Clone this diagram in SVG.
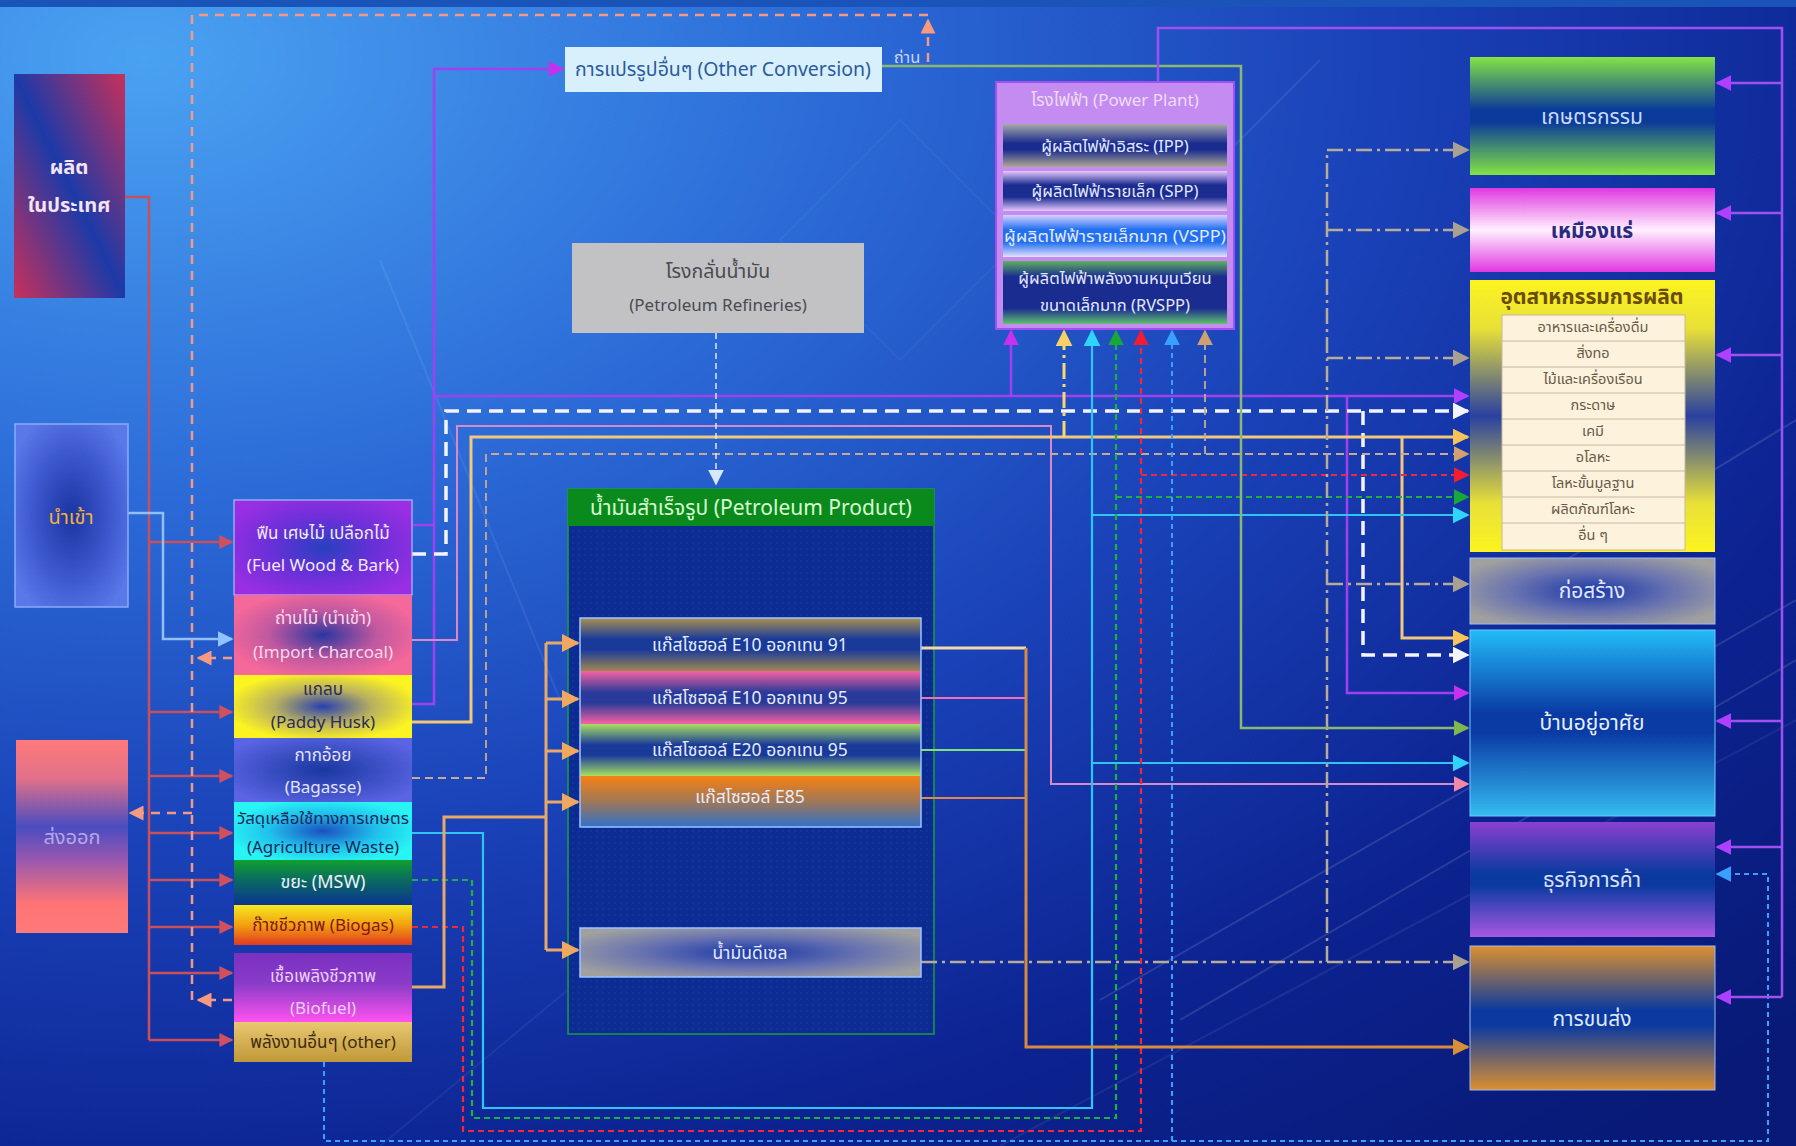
<svg xmlns="http://www.w3.org/2000/svg" width="1796" height="1146" viewBox="0 0 1796 1146">
<defs>
<style>
.t{font-family:'Noto Sans Thai','Noto Sans','Tahoma','DejaVu Sans',sans-serif;text-anchor:middle;dominant-baseline:central}
.f17{font-size:17px}.f16{font-size:16.5px}.f15{font-size:16.5px}.f18{font-size:18px}.f19{font-size:19.5px}.f20{font-size:20px}.f21{font-size:21px}.f13{font-size:14.5px}.fp{font-size:17.5px}
.nb{stroke:#a8c0ff;stroke-width:1.2}
</style>
<radialGradient id="bg" cx="0.08" cy="0.05" r="1.25">
<stop offset="0" stop-color="#4aa2f2"/><stop offset="0.3" stop-color="#2c6cd8"/><stop offset="0.55" stop-color="#1a42b8"/><stop offset="0.8" stop-color="#0c2290"/><stop offset="1" stop-color="#081a76"/>
</radialGradient>
<linearGradient id="gProd" x1="0" y1="1" x2="1" y2="0"><stop offset="0" stop-color="#c8305a"/><stop offset="0.5" stop-color="#1c3aa8"/><stop offset="1" stop-color="#c8305a"/></linearGradient>
<radialGradient id="gImp" r="0.6"><stop offset="0" stop-color="#1a34a0"/><stop offset="0.6" stop-color="#3f5ad0"/><stop offset="1" stop-color="#5a78e8"/></radialGradient>
<linearGradient id="gExp" x1="0" y1="0" x2="0" y2="1"><stop offset="0" stop-color="#ff7a7a"/><stop offset="0.2" stop-color="#e0708a"/><stop offset="0.45" stop-color="#4a4cc0"/><stop offset="0.62" stop-color="#9858b0"/><stop offset="0.85" stop-color="#ff7474"/><stop offset="1" stop-color="#ff7a7a"/></linearGradient>
<radialGradient id="gWood" r="0.6"><stop offset="0" stop-color="#2840c0"/><stop offset="0.5" stop-color="#6a30d8"/><stop offset="1" stop-color="#9a2ee4"/></radialGradient>
<radialGradient id="gChar" r="0.55"><stop offset="0" stop-color="#2a36a0"/><stop offset="0.55" stop-color="#c058a0"/><stop offset="1" stop-color="#f4689a"/></radialGradient>
<radialGradient id="gPad" r="0.55"><stop offset="0" stop-color="#2840b0"/><stop offset="0.5" stop-color="#b8b060"/><stop offset="1" stop-color="#fcf420"/></radialGradient>
<radialGradient id="gBag" r="0.6"><stop offset="0" stop-color="#1a38a0"/><stop offset="1" stop-color="#5a64e4"/></radialGradient>
<radialGradient id="gAgr" r="0.55"><stop offset="0" stop-color="#1a50c0"/><stop offset="0.55" stop-color="#20c0ec"/><stop offset="1" stop-color="#28f4f4"/></radialGradient>
<linearGradient id="gMsw" x1="0" y1="0" x2="0" y2="1"><stop offset="0" stop-color="#10a030"/><stop offset="0.45" stop-color="#0a6a60"/><stop offset="1" stop-color="#0a3490"/></linearGradient>
<linearGradient id="gBio" x1="0" y1="0" x2="0" y2="1"><stop offset="0" stop-color="#f4e820"/><stop offset="0.5" stop-color="#f4a010"/><stop offset="1" stop-color="#e03a20"/></linearGradient>
<linearGradient id="gBf" x1="0" y1="0" x2="0" y2="1"><stop offset="0" stop-color="#7a30c0"/><stop offset="0.45" stop-color="#8a3cc8"/><stop offset="1" stop-color="#ff52f0"/></linearGradient>
<linearGradient id="gOth" x1="0" y1="0" x2="0" y2="1"><stop offset="0" stop-color="#e8c870"/><stop offset="1" stop-color="#c09838"/></linearGradient>
<linearGradient id="gE91" x1="0" y1="0" x2="0" y2="1"><stop offset="0" stop-color="#a89050"/><stop offset="0.4" stop-color="#1a3a9a"/><stop offset="0.6" stop-color="#1a3a9a"/><stop offset="1" stop-color="#a08850"/></linearGradient>
<linearGradient id="gE95" x1="0" y1="0" x2="0" y2="1"><stop offset="0" stop-color="#f862a2"/><stop offset="0.4" stop-color="#2a3a9a"/><stop offset="0.6" stop-color="#2a3a9a"/><stop offset="1" stop-color="#f862a2"/></linearGradient>
<linearGradient id="gE20" x1="0" y1="0" x2="0" y2="1"><stop offset="0" stop-color="#a8e060"/><stop offset="0.4" stop-color="#1a3a9a"/><stop offset="0.6" stop-color="#1a3a9a"/><stop offset="1" stop-color="#a8e060"/></linearGradient>
<linearGradient id="gE85" x1="0" y1="0" x2="0" y2="1"><stop offset="0" stop-color="#f88010"/><stop offset="0.5" stop-color="#a07858"/><stop offset="1" stop-color="#3070c8"/></linearGradient>
<radialGradient id="gGray" r="0.6"><stop offset="0" stop-color="#1a38a8"/><stop offset="0.55" stop-color="#6a74b0"/><stop offset="1" stop-color="#a0a0a0"/></radialGradient>
<linearGradient id="gIpp" x1="0" y1="0" x2="0" y2="1"><stop offset="0" stop-color="#a8a8a8"/><stop offset="0.45" stop-color="#1a2c90"/><stop offset="0.6" stop-color="#1a2c90"/><stop offset="1" stop-color="#b0a890"/></linearGradient>
<linearGradient id="gSpp" x1="0" y1="0" x2="0" y2="1"><stop offset="0" stop-color="#e8c8ff"/><stop offset="0.35" stop-color="#1a2c90"/><stop offset="0.65" stop-color="#1a2c90"/><stop offset="1" stop-color="#e8c8ff"/></linearGradient>
<linearGradient id="gVspp" x1="0" y1="0" x2="0" y2="1"><stop offset="0" stop-color="#d8d0ff"/><stop offset="0.35" stop-color="#2070f0"/><stop offset="0.65" stop-color="#2070f0"/><stop offset="1" stop-color="#e8e0ff"/></linearGradient>
<linearGradient id="gRv" x1="0" y1="0" x2="0" y2="1"><stop offset="0" stop-color="#60b060"/><stop offset="0.25" stop-color="#1a2c90"/><stop offset="0.75" stop-color="#1a2c90"/><stop offset="1" stop-color="#60c070"/></linearGradient>
<linearGradient id="gAgri" x1="0" y1="0" x2="0" y2="1"><stop offset="0" stop-color="#84e444"/><stop offset="0.45" stop-color="#0a3a9a"/><stop offset="0.55" stop-color="#0a3a9a"/><stop offset="1" stop-color="#84e444"/></linearGradient>
<linearGradient id="gMine" x1="0" y1="0" x2="0" y2="1"><stop offset="0" stop-color="#e038e0"/><stop offset="0.5" stop-color="#fff0ff"/><stop offset="1" stop-color="#e038e0"/></linearGradient>
<linearGradient id="gInd" x1="0" y1="0" x2="0" y2="1"><stop offset="0" stop-color="#fcf420"/><stop offset="0.18" stop-color="#e8e038"/><stop offset="0.5" stop-color="#2a40a0"/><stop offset="0.82" stop-color="#e8e038"/><stop offset="1" stop-color="#fcf420"/></linearGradient>
<linearGradient id="gHome" x1="0" y1="0" x2="0" y2="1"><stop offset="0" stop-color="#22bcf8"/><stop offset="0.45" stop-color="#0a3aa4"/><stop offset="0.55" stop-color="#0a3aa4"/><stop offset="1" stop-color="#34bcf0"/></linearGradient>
<linearGradient id="gCom" x1="0" y1="0" x2="0" y2="1"><stop offset="0" stop-color="#8a40d0"/><stop offset="0.45" stop-color="#0a3aa0"/><stop offset="0.55" stop-color="#0a3aa0"/><stop offset="1" stop-color="#a858e4"/></linearGradient>
<linearGradient id="gTrn" x1="0" y1="0" x2="0" y2="1"><stop offset="0" stop-color="#dc9030"/><stop offset="0.45" stop-color="#0a3aa0"/><stop offset="0.55" stop-color="#0a3aa0"/><stop offset="1" stop-color="#dc9030"/></linearGradient>
<pattern id="dots" width="6" height="6" patternUnits="userSpaceOnUse"><rect width="6" height="6" fill="#0c2c94"/><circle cx="3" cy="3" r="0.8" fill="#1a3ca8"/></pattern>
<marker id="mRb" viewBox="0 0 10 10" refX="9" refY="5" markerWidth="14" markerHeight="14" markerUnits="userSpaceOnUse" orient="auto"><path d="M0,0L10,5L0,10z" fill="#d05060"/></marker>
<marker id="mLb" viewBox="0 0 10 10" refX="9" refY="5" markerWidth="16" markerHeight="16" markerUnits="userSpaceOnUse" orient="auto"><path d="M0,0L10,5L0,10z" fill="#90c4ff"/></marker>
<marker id="mSal" viewBox="0 0 10 10" refX="9" refY="5" markerWidth="15" markerHeight="15" markerUnits="userSpaceOnUse" orient="auto"><path d="M0,0L10,5L0,10z" fill="#f89a80"/></marker>
<marker id="mPu" viewBox="0 0 10 10" refX="9" refY="5" markerWidth="16" markerHeight="16" markerUnits="userSpaceOnUse" orient="auto"><path d="M0,0L10,5L0,10z" fill="#b040ff"/></marker>
<marker id="mMg" viewBox="0 0 10 10" refX="9" refY="5" markerWidth="16" markerHeight="16" markerUnits="userSpaceOnUse" orient="auto"><path d="M0,0L10,5L0,10z" fill="#c830f0"/></marker>
<marker id="mWh" viewBox="0 0 10 10" refX="9" refY="5" markerWidth="17" markerHeight="17" markerUnits="userSpaceOnUse" orient="auto"><path d="M0,0L10,5L0,10z" fill="#f4f4ff"/></marker>
<marker id="mPk" viewBox="0 0 10 10" refX="9" refY="5" markerWidth="16" markerHeight="16" markerUnits="userSpaceOnUse" orient="auto"><path d="M0,0L10,5L0,10z" fill="#f088a8"/></marker>
<marker id="mTan" viewBox="0 0 10 10" refX="9" refY="5" markerWidth="17" markerHeight="17" markerUnits="userSpaceOnUse" orient="auto"><path d="M0,0L10,5L0,10z" fill="#f8c458"/></marker>
<marker id="mYl" viewBox="0 0 10 10" refX="9" refY="5" markerWidth="17" markerHeight="17" markerUnits="userSpaceOnUse" orient="auto"><path d="M0,0L10,5L0,10z" fill="#f8d068"/></marker>
<marker id="mGt" viewBox="0 0 10 10" refX="9" refY="5" markerWidth="16" markerHeight="16" markerUnits="userSpaceOnUse" orient="auto"><path d="M0,0L10,5L0,10z" fill="#d0a070"/></marker>
<marker id="mCy" viewBox="0 0 10 10" refX="9" refY="5" markerWidth="17" markerHeight="17" markerUnits="userSpaceOnUse" orient="auto"><path d="M0,0L10,5L0,10z" fill="#30d4f8"/></marker>
<marker id="mGr" viewBox="0 0 10 10" refX="9" refY="5" markerWidth="16" markerHeight="16" markerUnits="userSpaceOnUse" orient="auto"><path d="M0,0L10,5L0,10z" fill="#18a838"/></marker>
<marker id="mRd" viewBox="0 0 10 10" refX="9" refY="5" markerWidth="16" markerHeight="16" markerUnits="userSpaceOnUse" orient="auto"><path d="M0,0L10,5L0,10z" fill="#f41c30"/></marker>
<marker id="mBl" viewBox="0 0 10 10" refX="9" refY="5" markerWidth="16" markerHeight="16" markerUnits="userSpaceOnUse" orient="auto"><path d="M0,0L10,5L0,10z" fill="#38a0ff"/></marker>
<marker id="mOr" viewBox="0 0 10 10" refX="9" refY="5" markerWidth="18" markerHeight="18" markerUnits="userSpaceOnUse" orient="auto"><path d="M0,0L10,5L0,10z" fill="#f0a860"/></marker>
<marker id="mBr" viewBox="0 0 10 10" refX="9" refY="5" markerWidth="17" markerHeight="17" markerUnits="userSpaceOnUse" orient="auto"><path d="M0,0L10,5L0,10z" fill="#d89038"/></marker>
<marker id="mDd" viewBox="0 0 10 10" refX="9" refY="5" markerWidth="17" markerHeight="17" markerUnits="userSpaceOnUse" orient="auto"><path d="M0,0L10,5L0,10z" fill="#a8a090"/></marker>
<marker id="mGy" viewBox="0 0 10 10" refX="9" refY="5" markerWidth="16" markerHeight="16" markerUnits="userSpaceOnUse" orient="auto"><path d="M0,0L10,5L0,10z" fill="#80b850"/></marker>
<marker id="mRf" viewBox="0 0 10 10" refX="9" refY="5" markerWidth="16" markerHeight="16" markerUnits="userSpaceOnUse" orient="auto"><path d="M0,0L10,5L0,10z" fill="#d8e8ff"/></marker>
</defs>

<rect width="1796" height="1146" fill="url(#bg)"/>
<rect width="1796" height="7" fill="#1a54b8"/>
<g id="decor" fill="none" stroke="#ffffff" stroke-opacity="0.12" stroke-width="2">
<path d="M1100,1000 L1796,600"/><path d="M1180,1020 L1796,660"/><path d="M1000,1146 L1796,720" stroke-opacity="0.07"/>
<path d="M1120,260 L1320,60" stroke-opacity="0.08"/><path d="M1500,600 L1796,420"/>
<path d="M380,1146 L700,880" stroke-opacity="0.06"/>
<path d="M900,120 L1020,240 L900,360 L780,240z" stroke-opacity="0.04"/>
<path d="M380,260 L560,700" stroke-opacity="0.08"/>
</g>

<g id="n-petroleum">
<rect x="568" y="489" width="366" height="545" fill="url(#dots)" stroke="#1e9a40" stroke-width="1.5"/>
<rect x="568" y="489" width="366" height="37" fill="#0a8a1c"/>
<text class="t f21" x="751" y="508" fill="#d8ffd0">น้ำมันสำเร็จรูป (Petroleum  Product)</text>
</g>

<g id="connectors" fill="none" stroke-linejoin="miter">
<g stroke="#c8505a" stroke-width="2.5">
<path d="M125,197 H149 V1040"/>
<path d="M149,542 H232" marker-end="url(#mRb)"/>
<path d="M149,712 H232" marker-end="url(#mRb)"/>
<path d="M149,776 H232" marker-end="url(#mRb)"/>
<path d="M149,833 H232" marker-end="url(#mRb)"/>
<path d="M149,880 H232" marker-end="url(#mRb)"/>
<path d="M149,927 H232" marker-end="url(#mRb)"/>
<path d="M149,973 H232" marker-end="url(#mRb)"/>
<path d="M149,1040 H232" marker-end="url(#mRb)"/>
</g>
<path d="M128,513 H163 V639 H232" stroke="#90c0ff" stroke-width="2.5" marker-end="url(#mLb)"/>
<g stroke="#f29a88" stroke-width="2.5" stroke-dasharray="9 7">
<path d="M928,62 V20" marker-end="url(#mSal)"/>
<path d="M928,15 H192 V1000"/>
<path d="M232,658 H198" marker-end="url(#mSal)"/>
<path d="M232,1000 H198" marker-end="url(#mSal)"/>
<path d="M192,813 H130" marker-end="url(#mSal)"/>
</g>
<g stroke="#a040f0" stroke-width="2.5">
<path d="M412,525 H434"/>
<path d="M412,704 H434 V69 H563" marker-end="url(#mMg)"/>
<path d="M434,396 H1468" marker-end="url(#mPu)"/>
<path d="M1011,396 V331" marker-end="url(#mMg)"/>
<path d="M1347,396 V693 H1468" marker-end="url(#mMg)"/>
</g>
<g stroke="#f4f4ff" stroke-width="3.5" stroke-dasharray="14 8">
<path d="M412,554 H446 V411 H1468" marker-end="url(#mWh)"/>
<path d="M1363,411 V655 H1468" marker-end="url(#mWh)"/>
</g>
<path d="M412,640 H457 V426 H1051 V784 H1468" stroke="#d88ac8" stroke-width="2" marker-end="url(#mPk)"/>
<g stroke="#f2c87a" stroke-width="3">
<path d="M412,722 H471 V437 H1468" marker-end="url(#mTan)"/>
<path d="M1402,437 V638 H1468" marker-end="url(#mTan)"/>
</g>
<path d="M1064,437 V331" stroke="#f8d870" stroke-width="3" stroke-dasharray="16 5 3 5" marker-end="url(#mYl)"/>
<g stroke="#c8aa90" stroke-width="1.8" stroke-dasharray="8 5">
<path d="M412,778 H486 V454 H1468" marker-end="url(#mGt)"/>
<path d="M1205,454 V331" marker-end="url(#mGt)"/>
</g>
<g stroke="#30c4f4" stroke-width="2.2">
<path d="M412,833 H483 V1108 H1092 V331" marker-end="url(#mCy)"/>
<path d="M1092,515 H1468" marker-end="url(#mCy)"/>
<path d="M1092,763 H1468" marker-end="url(#mCy)"/>
</g>
<g stroke="#20b040" stroke-width="2.2" stroke-dasharray="6 4">
<path d="M412,880 H472 V1118 H1116 V331" marker-end="url(#mGr)"/>
<path d="M1116,497 H1468" marker-end="url(#mGr)"/>
</g>
<g stroke="#f02838" stroke-width="2.2" stroke-dasharray="6 4">
<path d="M412,927 H463 V1131 H1141 V331" marker-end="url(#mRd)"/>
<path d="M1141,475 H1468" marker-end="url(#mRd)"/>
</g>
<g stroke="#3aa0ff" stroke-width="2" stroke-dasharray="5 4">
<path d="M324,1062 V1141 H1768 V874 H1717" marker-end="url(#mBl)"/>
<path d="M1172,1141 V331" marker-end="url(#mBl)"/>
</g>
<g stroke="#e8a868" stroke-width="3">
<path d="M412,987 H444 V817 H546"/>
<path d="M546,643 V950"/>
<path d="M546,643 H578" marker-end="url(#mOr)"/>
<path d="M546,699 H578" marker-end="url(#mOr)"/>
<path d="M546,751 H578" marker-end="url(#mOr)"/>
<path d="M546,802 H578" marker-end="url(#mOr)"/>
<path d="M546,950 H578" marker-end="url(#mOr)"/>
</g>
<path d="M921,648 H1026" stroke="#f4d8a8" stroke-width="3"/>
<path d="M921,698 H1026" stroke="#f070b0" stroke-width="2"/>
<path d="M921,750 H1026" stroke="#80e080" stroke-width="2"/>
<path d="M921,798 H1026" stroke="#e08850" stroke-width="2"/>
<path d="M1026,648 V1047 H1468" stroke="#d88a40" stroke-width="3" marker-end="url(#mBr)"/>
<g stroke="#b8ac98" stroke-width="2.5" stroke-dasharray="16 5 3 5">
<path d="M921,962 H1468" marker-end="url(#mDd)"/>
<path d="M1327,962 V150 H1468" marker-end="url(#mDd)"/>
<path d="M1327,230 H1468" marker-end="url(#mDd)"/>
<path d="M1327,358 H1468" marker-end="url(#mDd)"/>
<path d="M1327,584 H1468" marker-end="url(#mDd)"/>
</g>
<path d="M716,333 V484" stroke="#e0e8ff" stroke-width="1.5" stroke-dasharray="6 4" marker-end="url(#mRf)"/>
<path d="M882,66 H1241 V728 H1468" stroke="#8ab870" stroke-width="2.5" marker-end="url(#mGy)"/>
<g stroke="#a050f0" stroke-width="2.5">
<path d="M1158,82 V28 H1782 V997"/>
<path d="M1782,83 H1717" marker-end="url(#mPu)"/>
<path d="M1782,213 H1717" marker-end="url(#mPu)"/>
<path d="M1782,355 H1717" marker-end="url(#mPu)"/>
<path d="M1782,721 H1717" marker-end="url(#mPu)"/>
<path d="M1782,847 H1717" marker-end="url(#mPu)"/>
<path d="M1782,997 H1717" marker-end="url(#mPu)"/>
</g>
</g>

<g id="n-domestic">
<rect x="14" y="74" width="111" height="224" fill="url(#gProd)"/>
<text class="t f20" x="69" y="168" fill="#f4e4f4" font-weight="bold">ผลิต</text>
<text class="t f20" x="69" y="206" fill="#f4e4f4" font-weight="bold">ในประเทศ</text>
</g>
<g id="n-import">
<rect x="15" y="424" width="113" height="183" fill="url(#gImp)" stroke="#88acf8" stroke-width="1.5"/>
<text class="t f20" x="71" y="518" fill="#f0b040">นำเข้า</text>
</g>
<g id="n-export">
<rect x="16" y="740" width="112" height="193" fill="url(#gExp)"/>
<text class="t f20" x="72" y="838" fill="#b4a8ec">ส่งออก</text>
</g>

<g id="n-fuelwood">
<rect x="234" y="500" width="178" height="95" fill="url(#gWood)" class="nb"/>
<text class="t f17" x="323" y="534" fill="#f4e8ff">ฟืน เศษไม้ เปลือกไม้</text>
<text class="t f17" x="323" y="566" fill="#f4e8ff">(Fuel Wood &amp; Bark)</text>
</g>
<g id="n-charcoal">
<rect x="234" y="595" width="178" height="80" fill="url(#gChar)"/>
<text class="t f17" x="323" y="619" fill="#ffd8e8">ถ่านไม้ (นำเข้า)</text>
<text class="t f17" x="323" y="653" fill="#ffd8e8">(Import Charcoal)</text>
</g>
<g id="n-paddy">
<rect x="234" y="675" width="178" height="63" fill="url(#gPad)"/>
<text class="t f17" x="323" y="690" fill="#2a2a58">แกลบ</text>
<text class="t f17" x="323" y="723" fill="#2a2a58">(Paddy Husk)</text>
</g>
<g id="n-bagasse">
<rect x="234" y="738" width="178" height="64" fill="url(#gBag)"/>
<text class="t f17" x="323" y="756" fill="#e4e4ff">กากอ้อย</text>
<text class="t f17" x="323" y="788" fill="#e4e4ff">(Bagasse)</text>
</g>
<g id="n-agri">
<rect x="234" y="802" width="178" height="58" fill="url(#gAgr)"/>
<text class="t f16" x="323" y="818" fill="#18285a" textLength="172" lengthAdjust="spacingAndGlyphs">วัสดุเหลือใช้ทางการเกษตร</text>
<text class="t f17" x="323" y="848" fill="#18285a">(Agriculture Waste)</text>
</g>
<g id="n-msw">
<rect x="234" y="860" width="178" height="45" fill="url(#gMsw)"/>
<text class="t f18" x="323" y="882" fill="#f0f0ff">ขยะ (MSW)</text>
</g>
<g id="n-biogas">
<rect x="234" y="905" width="178" height="40" fill="url(#gBio)"/>
<text class="t f17" x="323" y="926" fill="#801818">ก๊าซชีวภาพ (Biogas)</text>
</g>
<g id="n-biofuel">
<rect x="234" y="953" width="178" height="69" fill="url(#gBf)"/>
<text class="t f17" x="323" y="977" fill="#ecd0ff">เชื้อเพลิงชีวภาพ</text>
<text class="t f17" x="323" y="1009" fill="#ecd0ff">(Biofuel)</text>
</g>
<g id="n-other">
<rect x="234" y="1022" width="178" height="40" fill="url(#gOth)"/>
<text class="t f17" x="323" y="1043" fill="#402a10">พลังงานอื่นๆ (other)</text>
</g>

<g id="n-otherconv">
<rect x="565" y="47" width="317" height="45" fill="#d8f0fc"/>
<text class="t f19" x="723" y="70" fill="#2c5aa0">การแปรรูปอื่นๆ  (Other Conversion)</text>
</g>
<text class="t f16" x="907" y="57" fill="#c8d4f4" id="lbl-charcoal">ถ่าน</text>
<g id="n-refinery">
<rect x="572" y="243" width="292" height="90" fill="#c2c2c4"/>
<text class="t f19" x="718" y="272" fill="#4a4a52">โรงกลั่นน้ำมัน</text>
<text class="t f17" x="718" y="306" fill="#4a4a52">(Petroleum Refineries)</text>
</g>
<g id="n-e10-91">
<rect x="580" y="618" width="341" height="53" fill="url(#gE91)"/>
<text class="t fp" x="750" y="645" fill="#e4ecff">แก๊สโซฮอล์ E10 ออกเทน 91</text>
</g>
<g id="n-e10-95">
<rect x="580" y="671" width="341" height="53" fill="url(#gE95)"/>
<text class="t fp" x="750" y="698" fill="#e4ecff">แก๊สโซฮอล์ E10 ออกเทน 95</text>
</g>
<g id="n-e20">
<rect x="580" y="724" width="341" height="52" fill="url(#gE20)"/>
<text class="t fp" x="750" y="750" fill="#e4ecff">แก๊สโซฮอล์ E20 ออกเทน 95</text>
</g>
<g id="n-e85">
<rect x="580" y="776" width="341" height="51" fill="url(#gE85)"/>
<text class="t fp" x="750" y="797" fill="#e4ecff">แก๊สโซฮอล์ E85</text>
</g>
<rect x="580" y="618" width="341" height="209" fill="none" stroke="#9ac4ff" stroke-width="1.5"/>
<g id="n-diesel">
<rect x="580" y="928" width="341" height="49" fill="url(#gGray)" stroke="#9ac4ff" stroke-width="1.5"/>
<text class="t fp" x="750" y="953" fill="#e4ecff">น้ำมันดีเซล</text>
</g>

<g id="n-powerplant">
<rect x="996" y="82" width="238" height="247" fill="#c48cf0" stroke="#a050f0" stroke-width="2"/>
<text class="t f17" x="1115" y="101" fill="#eedcff">โรงไฟฟ้า (Power Plant)</text>
<rect x="1003" y="124" width="224" height="43" fill="url(#gIpp)"/>
<text class="t f15" x="1115" y="146" fill="#e4e8ff">ผู้ผลิตไฟฟ้าอิสระ (IPP)</text>
<rect x="1003" y="171" width="224" height="40" fill="url(#gSpp)"/>
<text class="t f15" x="1115" y="191" fill="#e4e8ff">ผู้ผลิตไฟฟ้ารายเล็ก (SPP)</text>
<rect x="1003" y="215" width="224" height="42" fill="url(#gVspp)"/>
<text class="t f15" x="1115" y="236" fill="#e4e8ff" textLength="222" lengthAdjust="spacingAndGlyphs">ผู้ผลิตไฟฟ้ารายเล็กมาก (VSPP)</text>
<rect x="1003" y="261" width="224" height="63" fill="url(#gRv)"/>
<text class="t f15" x="1115" y="278" fill="#e4e8ff">ผู้ผลิตไฟฟ้าพลังงานหมุนเวียน</text>
<text class="t f15" x="1115" y="305" fill="#e4e8ff">ขนาดเล็กมาก (RVSPP)</text>
</g>

<g id="n-agriculture">
<rect x="1470" y="57" width="245" height="118" fill="url(#gAgri)"/>
<text class="t f21" x="1592" y="117" fill="#c8dcff">เกษตรกรรม</text>
</g>
<g id="n-mining">
<rect x="1470" y="188" width="245" height="84" fill="url(#gMine)"/>
<text class="t f21" x="1592" y="231" fill="#2a2a80" font-weight="bold">เหมืองแร่</text>
</g>
<g id="n-industry">
<rect x="1470" y="280" width="245" height="272" fill="url(#gInd)"/>
<text class="t f21" x="1592" y="297" fill="#6a4c00" font-weight="bold">อุตสาหกรรมการผลิต</text>
<rect x="1502" y="315" width="183" height="235" fill="#fdf2dc" stroke="#c8b8a0" stroke-width="1"/>
<g stroke="#c8b8a0" stroke-width="1">
<path d="M1502,341 H1685 M1502,367 H1685 M1502,393 H1685 M1502,419 H1685 M1502,445 H1685 M1502,471 H1685 M1502,497 H1685 M1502,523 H1685"/>
</g>
<g fill="#6a5a48">
<text class="t f13" x="1593" y="328">อาหารและเครื่องดื่ม</text>
<text class="t f13" x="1593" y="354">สิ่งทอ</text>
<text class="t f13" x="1593" y="380">ไม้และเครื่องเรือน</text>
<text class="t f13" x="1593" y="406">กระดาษ</text>
<text class="t f13" x="1593" y="432">เคมี</text>
<text class="t f13" x="1593" y="458">อโลหะ</text>
<text class="t f13" x="1593" y="484">โลหะขั้นมูลฐาน</text>
<text class="t f13" x="1593" y="510">ผลิตภัณฑ์โลหะ</text>
<text class="t f13" x="1593" y="536">อื่น ๆ</text>
</g>
</g>
<g id="n-construction">
<rect x="1470" y="558" width="245" height="66" fill="url(#gGray)" stroke="#a0b8f0" stroke-width="1"/>
<text class="t f21" x="1592" y="591" fill="#e0e8ff">ก่อสร้าง</text>
</g>
<g id="n-residential">
<rect x="1470" y="630" width="245" height="186" fill="url(#gHome)" stroke="#70c8ff" stroke-width="1"/>
<text class="t f21" x="1592" y="723" fill="#e8f0ff">บ้านอยู่อาศัย</text>
</g>
<g id="n-commercial">
<rect x="1470" y="822" width="245" height="115" fill="url(#gCom)"/>
<text class="t f21" x="1592" y="880" fill="#e0e0ff">ธุรกิจการค้า</text>
</g>
<g id="n-transport">
<rect x="1470" y="946" width="245" height="144" fill="url(#gTrn)" stroke="#a0b8f0" stroke-width="1"/>
<text class="t f21" x="1592" y="1019" fill="#e0e8ff">การขนส่ง</text>
</g>
</svg>
